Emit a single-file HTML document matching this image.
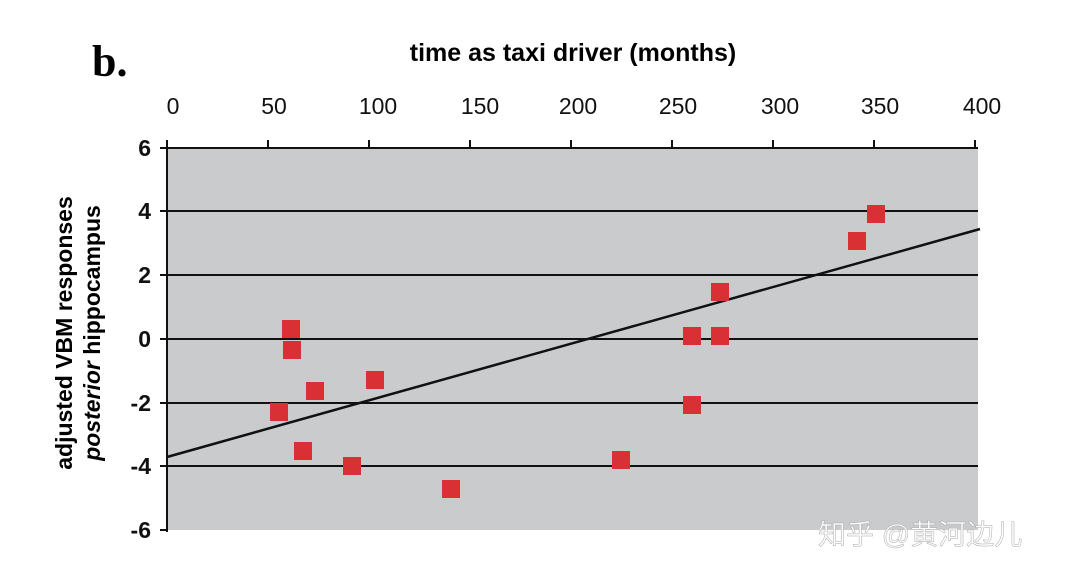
<!DOCTYPE html><html><head><meta charset="utf-8"><style>body{margin:0;background:#fff}svg{display:block}</style></head><body>
<svg width="1080" height="576" xmlns="http://www.w3.org/2000/svg" font-family="Liberation Sans, sans-serif">
<rect x="167" y="148" width="811" height="382" fill="#c9cbcd"/>
<g stroke="#111" stroke-width="2">
<line x1="167" y1="148" x2="978" y2="148"/>
<line x1="167" y1="211" x2="978" y2="211"/>
<line x1="167" y1="275" x2="978" y2="275"/>
<line x1="167" y1="339" x2="978" y2="339"/>
<line x1="167" y1="403" x2="978" y2="403"/>
<line x1="167" y1="466" x2="978" y2="466"/>
<line x1="167" y1="148" x2="167" y2="532"/>
<line x1="160" y1="148" x2="167" y2="148"/><line x1="160" y1="211" x2="167" y2="211"/><line x1="160" y1="275" x2="167" y2="275"/><line x1="160" y1="339" x2="167" y2="339"/><line x1="160" y1="403" x2="167" y2="403"/><line x1="160" y1="466" x2="167" y2="466"/><line x1="160" y1="530" x2="167" y2="530"/>
<line x1="167" y1="140" x2="167" y2="148"/><line x1="268" y1="140" x2="268" y2="148"/><line x1="369" y1="140" x2="369" y2="148"/><line x1="470" y1="140" x2="470" y2="148"/><line x1="571" y1="140" x2="571" y2="148"/><line x1="672" y1="140" x2="672" y2="148"/><line x1="773" y1="140" x2="773" y2="148"/><line x1="874" y1="140" x2="874" y2="148"/><line x1="975" y1="140" x2="975" y2="148"/>
</g>
<line x1="167" y1="457" x2="980" y2="229" stroke="#111" stroke-width="2.5"/>
<g fill="#d93035">
<rect x="270" y="403" width="18" height="18"/><rect x="282" y="320" width="18" height="18"/><rect x="283" y="341" width="18" height="18"/><rect x="294" y="442" width="18" height="18"/><rect x="306" y="382" width="18" height="18"/><rect x="343" y="457" width="18" height="18"/><rect x="366" y="371" width="18" height="18"/><rect x="442" y="480" width="18" height="18"/><rect x="612" y="451" width="18" height="18"/><rect x="683" y="327" width="18" height="18"/><rect x="683" y="396" width="18" height="18"/><rect x="711" y="283" width="18" height="18"/><rect x="711" y="327" width="18" height="18"/><rect x="848" y="232" width="18" height="18"/><rect x="867" y="205" width="18" height="18"/>
</g>
<g font-size="23" text-anchor="middle" fill="#111">
<text x="173" y="114">0</text><text x="274" y="114">50</text><text x="378" y="114">100</text><text x="480" y="114">150</text><text x="578" y="114">200</text><text x="678" y="114">250</text><text x="780" y="114">300</text><text x="880" y="114">350</text><text x="982" y="114">400</text>
</g>
<g font-size="23" font-weight="bold" text-anchor="end" fill="#111">
<text x="151" y="156">6</text><text x="151" y="219">4</text><text x="151" y="283">2</text><text x="151" y="347">0</text><text x="151" y="411">-2</text><text x="151" y="474">-4</text><text x="151" y="538">-6</text>
</g>
<text x="573" y="61" font-size="25" font-weight="bold" text-anchor="middle">time as taxi driver (months)</text>
<text x="92" y="76" font-size="44" font-weight="bold" font-family="Liberation Serif, serif">b.</text>
<text transform="translate(72,333) rotate(-90)" font-size="23" font-weight="bold" text-anchor="middle">adjusted VBM responses</text>
<text transform="translate(100,333) rotate(-90)" font-size="23" font-weight="bold" text-anchor="middle"><tspan font-style="italic">posterior</tspan> hippocampus</text>
<text x="818" y="544" font-size="28" fill="#fff" stroke="#aaa" stroke-width="0.5" font-family="Liberation Sans, Noto Sans CJK SC, sans-serif">知乎 @黄河边儿</text>
</svg></body></html>
